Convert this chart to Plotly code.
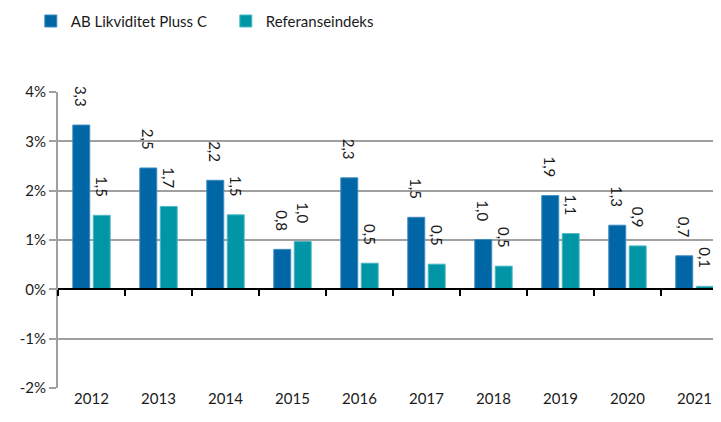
import plotly.graph_objects as go

years = ["2012", "2013", "2014", "2015", "2016", "2017", "2018", "2019", "2020", "2021"]
fund = [3.33, 2.46, 2.21, 0.81, 2.26, 1.46, 1.01, 1.90, 1.30, 0.68]
index = [1.50, 1.68, 1.51, 0.97, 0.53, 0.51, 0.47, 1.13, 0.88, 0.06]
fund_name = "AB Likviditet Pluss C"
index_name = "Referanseindeks"
y_ticks = [-2, -1, 0, 1, 2, 3, 4]
y_ticktext = [f"{v}%" for v in y_ticks]

BLUE = "#0066A6"
TEAL = "#0096A6"
FONT = "Lato"
TXT = "#1a1a1a"
X_RANGE = [-0.5, 9.396]
Y_RANGE = [-2, 4]
PAD = "\u00a0" * 4  # spacing between the label and the bar top


def fmt(v):
    return f"{v:.1f}".replace(".", ",") + PAD


fig = go.Figure()
for vals, name, color, edge in [(fund, fund_name, BLUE, "#3F8CC0"), (index, index_name, TEAL, "#4FB8C4")]:
    fig.add_trace(go.Bar(
        x=years, y=vals, name=name,
        marker=dict(color=color, line=dict(color=edge, width=1)),
        text=[fmt(v) for v in vals], textposition="outside", textangle=90,
        textfont=dict(family=FONT, size=15, color=TXT),
        cliponaxis=False, constraintext="none", hoverinfo="x+y",
    ))
# helper trace for the overlay axis that carries the tick marks on the zero line
fig.add_trace(go.Scatter(x=years, y=[None] * len(years), xaxis="x2", mode="markers",
                         showlegend=False, hoverinfo="skip"))

zero_pos = (0 - Y_RANGE[0]) / (Y_RANGE[1] - Y_RANGE[0])

fig.update_layout(
    width=713, height=414,
    margin=dict(l=50, r=0, t=84, b=34, autoexpand=False),
    paper_bgcolor="white", plot_bgcolor="white",
    barmode="group", bargap=0.39, bargroupgap=0.17,
    font=dict(family=FONT, size=15, color=TXT),
    showlegend=True,
    legend=dict(orientation="h", xref="container", yref="container",
                x=0.032, xanchor="left", y=0.968, yanchor="middle",
                font=dict(family=FONT, size=15, color=TXT),
                entrywidth=150, entrywidthmode="pixels", itemclick=False),
    xaxis=dict(type="category", range=X_RANGE, showgrid=False, showline=False, automargin=False,
               ticks="", tickfont=dict(family=FONT, size=15, color=TXT), fixedrange=True),
    xaxis2=dict(type="category", overlaying="x", range=X_RANGE, anchor="free", position=zero_pos,
                automargin=False, showgrid=False, showline=True, linecolor="black", linewidth=2,
                ticks="outside", tickson="boundaries", ticklen=6, tickwidth=2, tickcolor="black",
                showticklabels=False, fixedrange=True),
    yaxis=dict(range=Y_RANGE, tickvals=y_ticks, ticktext=y_ticktext, showgrid=True,
               gridcolor="#A0A0A0", gridwidth=2, zeroline=True, zerolinecolor="black", zerolinewidth=2,
               automargin=False,
               showline=True, linecolor="#A0A0A0", linewidth=2,
               ticks="outside", ticklen=7, tickwidth=2, tickcolor="#A0A0A0",
               tickfont=dict(family=FONT, size=15, color=TXT)),
)

fig.write_html("out.html")
